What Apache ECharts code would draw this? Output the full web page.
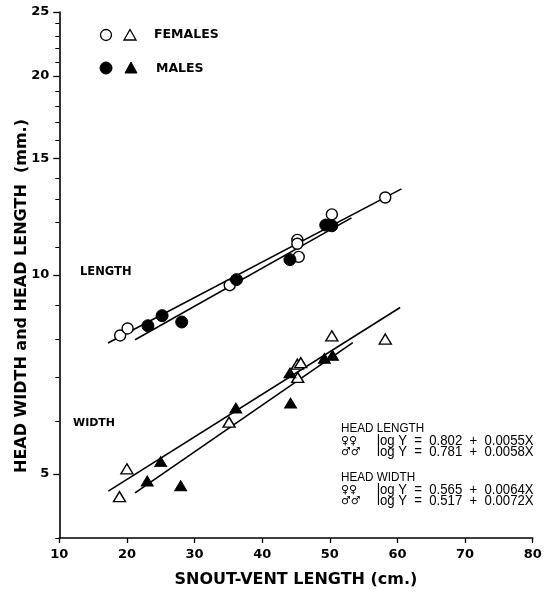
<!DOCTYPE html>
<html><head><meta charset="utf-8">
<script src="https://cdn.jsdelivr.net/npm/echarts@6/dist/echarts.min.js"></script>
<style>html,body{margin:0;padding:0;background:#fff}#c{width:551px;height:593px}</style>
</head><body><div id="c"></div>
<script>
// ---- data ----
const femLength = [[19.0,8.1],[20.1,8.3],[35.2,9.65],[45.2,11.3],[45.2,11.15],[45.4,10.65],[50.3,12.35],[58.2,13.1]];
const maleLength = [[23.1,8.38],[25.2,8.68],[28.1,8.49],[36.2,9.84],[44.1,10.55],[49.4,11.9],[50.3,11.87]];
const femWidth = [[18.9,4.62],[20.0,5.09],[35.1,5.99],[45.25,7.0],[45.2,7.33],[45.7,7.37],[50.3,8.09],[58.2,8.0]];
const maleWidth = [[23.0,4.88],[25.0,5.22],[27.95,4.80],[36.1,6.29],[44.1,7.11],[44.2,6.40],[49.2,7.48],[50.4,7.56]];
// fitted lines (end points)
const femLengthLine = [[17.2,7.89],[60.6,13.5]];
const maleLengthLine = [[21.2,7.98],[53.2,12.2]];
const femWidthLine = [[17.25,4.71],[60.4,8.93]];
const maleWidthLine = [[21.2,4.68],[53.4,7.9]];
// axis ticks
const xTicks = [10,20,30,40,50,60,70,80];
const yMajorTicks = [5,10,15,20,25];
const yMinorTicks = [4,6,7,8,9,11,12,13,14,16,17,18,19,21,22,23,24];
const equations = [
  ['HEAD LENGTH', null],
  ['\u2640\u2640', 'log Y  =  0.802  +  0.0055X'],
  ['\u2642\u2642', 'log Y  =  0.781  +  0.0058X'],
  ['HEAD WIDTH', null],
  ['\u2640\u2640', 'log Y  =  0.565  +  0.0064X'],
  ['\u2642\u2642', 'log Y  =  0.517  +  0.0072X']
];

const chart = echarts.init(document.getElementById('c'));
const bold = 'DejaVu Sans';
const lineSeries = (d) => ({type:'line', data:d, symbol:'none', silent:true, z:1,
  lineStyle:{color:'#000', width:1.6}, animation:false});
const eqY = [428, 441.5, 452.5, 477, 490, 501];
const graphics = [];
// legend
graphics.push({type:'circle', shape:{cx:106, cy:35, r:5.5}, style:{fill:'#fff', stroke:'#000', lineWidth:1.3}});
graphics.push({type:'polygon', shape:{points:[[130,29.5],[136,40],[124,40]]}, style:{fill:'#fff', stroke:'#000', lineWidth:1.3}});
graphics.push({type:'text', x:154, y:35, style:{text:'FEMALES', font:'bold 12.5px "DejaVu Sans"', fill:'#000', verticalAlign:'middle'}});
graphics.push({type:'circle', shape:{cx:106, cy:68, r:6}, style:{fill:'#000', stroke:'#000', lineWidth:1}});
graphics.push({type:'polygon', shape:{points:[[131,62],[137,73],[125,73]]}, style:{fill:'#000', stroke:'#000', lineWidth:1}});
graphics.push({type:'text', x:156, y:69, style:{text:'MALES', font:'bold 12.5px "DejaVu Sans"', fill:'#000', verticalAlign:'middle'}});
graphics.push({type:'text', x:80, y:272, style:{text:'LENGTH', font:'bold 11.5px "DejaVu Sans"', fill:'#000', verticalAlign:'middle'}});
graphics.push({type:'text', x:73, y:423, style:{text:'WIDTH', font:'bold 11px "DejaVu Sans"', fill:'#000', verticalAlign:'middle'}});
graphics.push({type:'text', x:22, y:296, rotation:Math.PI/2, style:{text:'HEAD WIDTH and HEAD LENGTH  (mm.)', font:'bold 16px "DejaVu Sans"', fill:'#000', align:'center', verticalAlign:'middle'}});
equations.forEach((e,i)=>{
  if (e[1] === null) {
    graphics.push({type:'text', x:341, y:eqY[i], scaleX:0.9, style:{text:e[0], font:'13px "Liberation Sans"', fill:'#000', verticalAlign:'middle'}});
  } else {
    graphics.push({type:'text', x:341, y:eqY[i], style:{text:e[0], font:'11px "DejaVu Sans"', fill:'#000', verticalAlign:'middle'}});
    graphics.push({type:'text', x:377, y:eqY[i], scaleX:0.94, style:{text:e[1], font:'14px "Liberation Sans"', fill:'#000', verticalAlign:'middle'}});
  }
});

chart.setOption({
  animation:false,
  grid:{left:59.3, right:18.3, top:12, bottom:51.3, containLabel:false},
  xAxis:{type:'value', min:10, max:80, interval:10,
    name:'SNOUT-VENT LENGTH (cm.)', nameLocation:'middle', nameGap:34,
    nameTextStyle:{fontFamily:bold, fontWeight:'bold', fontSize:16, color:'#000'},
    axisLine:{lineStyle:{color:'#000', width:1.6}},
    axisTick:{length:5, lineStyle:{color:'#000', width:1.3}, customValues:xTicks},
    axisLabel:{color:'#000', fontFamily:bold, fontWeight:'bold', fontSize:13, margin:10, customValues:xTicks},
    splitLine:{show:false}},
  yAxis:[{type:'log', logBase:10, min:4, max:25,
    axisLine:{lineStyle:{color:'#000', width:1.6}},
    axisTick:{length:6, lineStyle:{color:'#000', width:1.3}, customValues:yMajorTicks},
    axisLabel:{color:'#000', fontFamily:bold, fontWeight:'bold', fontSize:13, margin:10, customValues:yMajorTicks},
    splitLine:{show:false}},
   {type:'log', logBase:10, min:4, max:25, position:'left',
    axisLine:{show:false},
    axisTick:{length:4, lineStyle:{color:'#000', width:1}, customValues:yMinorTicks},
    axisLabel:{show:false}, splitLine:{show:false}}],
  series:[
    lineSeries(femLengthLine), lineSeries(maleLengthLine), lineSeries(femWidthLine), lineSeries(maleWidthLine),
    {type:'scatter', data:femLength, symbol:'circle', symbolSize:11, z:3, itemStyle:{color:'#fff', borderColor:'#000', borderWidth:1.4, opacity:1}},
    {type:'scatter', data:maleLength, symbol:'circle', symbolSize:12, z:4, itemStyle:{color:'#000', borderColor:'#000', borderWidth:1, opacity:1}},
    {type:'scatter', data:femWidth, symbol:'triangle', symbolSize:[12,10], z:3, itemStyle:{color:'#fff', borderColor:'#000', borderWidth:1.4, opacity:1}},
    {type:'scatter', data:maleWidth, symbol:'triangle', symbolSize:[12,10], z:4, itemStyle:{color:'#000', borderColor:'#000', borderWidth:1, opacity:1}}
  ],
  graphic:graphics
});
</script></body></html>
